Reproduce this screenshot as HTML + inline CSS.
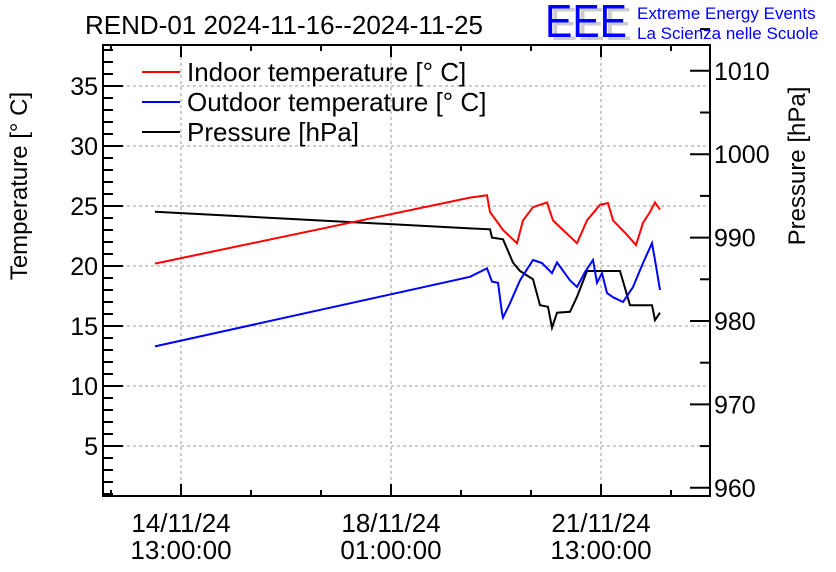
<!DOCTYPE html>
<html><head><meta charset="utf-8"><style>
body{margin:0;background:#fff}
svg{display:block;font-family:"Liberation Sans",sans-serif}
</style></head><body>
<svg id="c" width="836" height="572">
<g id="grid"></g>
<g id="series"></g>
<g id="axes"></g>
<text x="85" y="34" font-size="26">REND-01 2024-11-16--2024-11-25</text>
<g>
<text x="550" y="40" font-size="46" fill="#ccc" textLength="82" lengthAdjust="spacingAndGlyphs">EEE</text>
<text x="545" y="37" font-size="46" fill="#0000ff" textLength="82" lengthAdjust="spacingAndGlyphs">EEE</text>
<text x="637" y="19" font-size="17" fill="#0000ff">Extreme Energy Events</text>
<text x="637" y="39" font-size="17" fill="#0000ff">La Scienza nelle Scuole</text>
</g>
<text transform="translate(27,186) rotate(-90)" text-anchor="middle" font-size="24">Temperature [° C]</text>
<text transform="translate(805,166) rotate(-90)" text-anchor="middle" font-size="24">Pressure [hPa]</text>
<g>
<g><line x1="142" x2="180" y1="72" y2="72" stroke="#f00" stroke-width="2"/><text x="187" y="81" font-size="26">Indoor temperature [° C]</text></g>
<g><line x1="142" x2="180" y1="102" y2="102" stroke="#00f" stroke-width="2"/><text x="187" y="111" font-size="26">Outdoor temperature [° C]</text></g>
<g><line x1="142" x2="180" y1="132" y2="132" stroke="#000" stroke-width="2"/><text x="187" y="141" font-size="26">Pressure [hPa]</text></g>
</g>
</svg>
<script>
// hours since 14/11/24 13:00
const indoorT=[-10.4,115.6,122.4,123.6,126.4,128.8,134.4,136.8,140.8,146.4,148.8,152.8,158.4,162.4,167.6,170.8,172.8,178.4,182,184.8,187.6,189.6,191.6];
const indoorV=[20.2,25.7,25.9,24.5,23.7,23.0,21.9,23.8,24.9,25.3,23.8,23.0,21.9,23.8,25.1,25.25,23.8,22.6,21.75,23.6,24.5,25.3,24.7];
const outdoorT=[-10.4,115.6,122.4,124.4,126.8,128.4,128.8,131.6,135.6,140.8,144.4,148.4,150.4,155.6,158.4,161.6,164.8,166.4,168.4,170.4,172.8,176.8,180.8,184.8,188.4,189.6,191.6];
const outdoorV=[13.3,19.1,19.8,18.7,18.6,16.1,15.7,16.9,18.8,20.5,20.25,19.4,20.3,18.8,18.25,19.5,20.5,18.6,19.4,17.75,17.4,17.0,18.25,20.25,21.9,20.5,18.0];
const pressT=[-10.4,115.6,123.6,124.4,128.8,132.8,135.6,140.8,143.6,146.8,148.4,150.4,155.6,158.4,162.4,175.6,179.6,188.4,189.6,191.6];
const pressV=[993.1,991.1,991.0,990.0,989.8,987.0,986.0,985.0,981.9,981.7,979.2,981.0,981.1,982.9,986.0,986.0,981.9,981.9,980.1,981.0];
const leftTicks=[5,10,15,20,25,30,35];
const rightTicks=[960,970,980,990,1000,1010];
const xTickHours=[0,84,168];
const xTickLabels=[["14/11/24","13:00:00"],["18/11/24","01:00:00"],["21/11/24","13:00:00"]];
const L=103,R=710,T=45,B=496;
const X=h=>181+h*2.5;
const YT=v=>506-v*12;
const YP=p=>321-(p-980)*8.34;
const NS="http://www.w3.org/2000/svg";
function mk(tag,attrs,parent){const e=document.createElementNS(NS,tag);for(const k in attrs)e.setAttribute(k,attrs[k]);document.getElementById(parent).appendChild(e);return e;}
leftTicks.forEach(v=>{const e=mk('line',{x1:L,x2:R,y1:YT(v),y2:YT(v),stroke:'#999','stroke-dasharray':'3,3'},'grid');

});
xTickHours.forEach(h=>{const e=mk('line',{x1:X(h),x2:X(h),y1:T,y2:B,stroke:'#999','stroke-dasharray':'3,3'},'grid');

});
function series(ts,vs,fy,col,name){const pts=ts.map((t,i)=>X(t).toFixed(1)+','+fy(vs[i]).toFixed(1)).join(' ');
const e=mk('polyline',{points:pts,fill:'none',stroke:col,'stroke-width':2},'series');

}
series(pressT,pressV,YP,'#000','pressure-line');
series(outdoorT,outdoorV,YT,'#00f','outdoor-temperature-line');
series(indoorT,indoorV,YT,'#f00','indoor-temperature-line');
mk('rect',{x:L,y:T,width:R-L,height:B-T,fill:'none',stroke:'#000','stroke-width':2},'axes');
for(let v=1;v<=38;v++){const maj=v%5==0;mk('line',{x1:L,x2:L+(maj?20:10),y1:YT(v),y2:YT(v),stroke:'#000','stroke-width':2},'axes');}
leftTicks.forEach(v=>{const e=mk('text',{x:L-5,y:YT(v)+9,'text-anchor':'end','font-size':25},'axes');e.textContent=v;

});
for(let p=960;p<=1015;p+=5){const maj=p%10==0;mk('line',{x1:R,x2:R-(maj?20:10),y1:YP(p),y2:YP(p),stroke:'#000','stroke-width':2},'axes');}
rightTicks.forEach(p=>{const e=mk('text',{x:R+4,y:YP(p)+9,'font-size':25},'axes');e.textContent=p;

});
for(let h=-28;h<=200;h+=28){const x=X(h);if(x<L||x>R)continue;const maj=h%84==0;const len=maj?12:6;
mk('line',{x1:x,x2:x,y1:B,y2:B-len,stroke:'#000','stroke-width':2},'axes');
mk('line',{x1:x,x2:x,y1:T,y2:T+len,stroke:'#000','stroke-width':2},'axes');}
xTickHours.forEach((h,i)=>{[0,1].forEach(j=>{const e=mk('text',{x:X(h),y:532+j*27,'text-anchor':'middle','font-size':26},'axes');e.textContent=xTickLabels[i][j];

});});
</script>
</body></html>
